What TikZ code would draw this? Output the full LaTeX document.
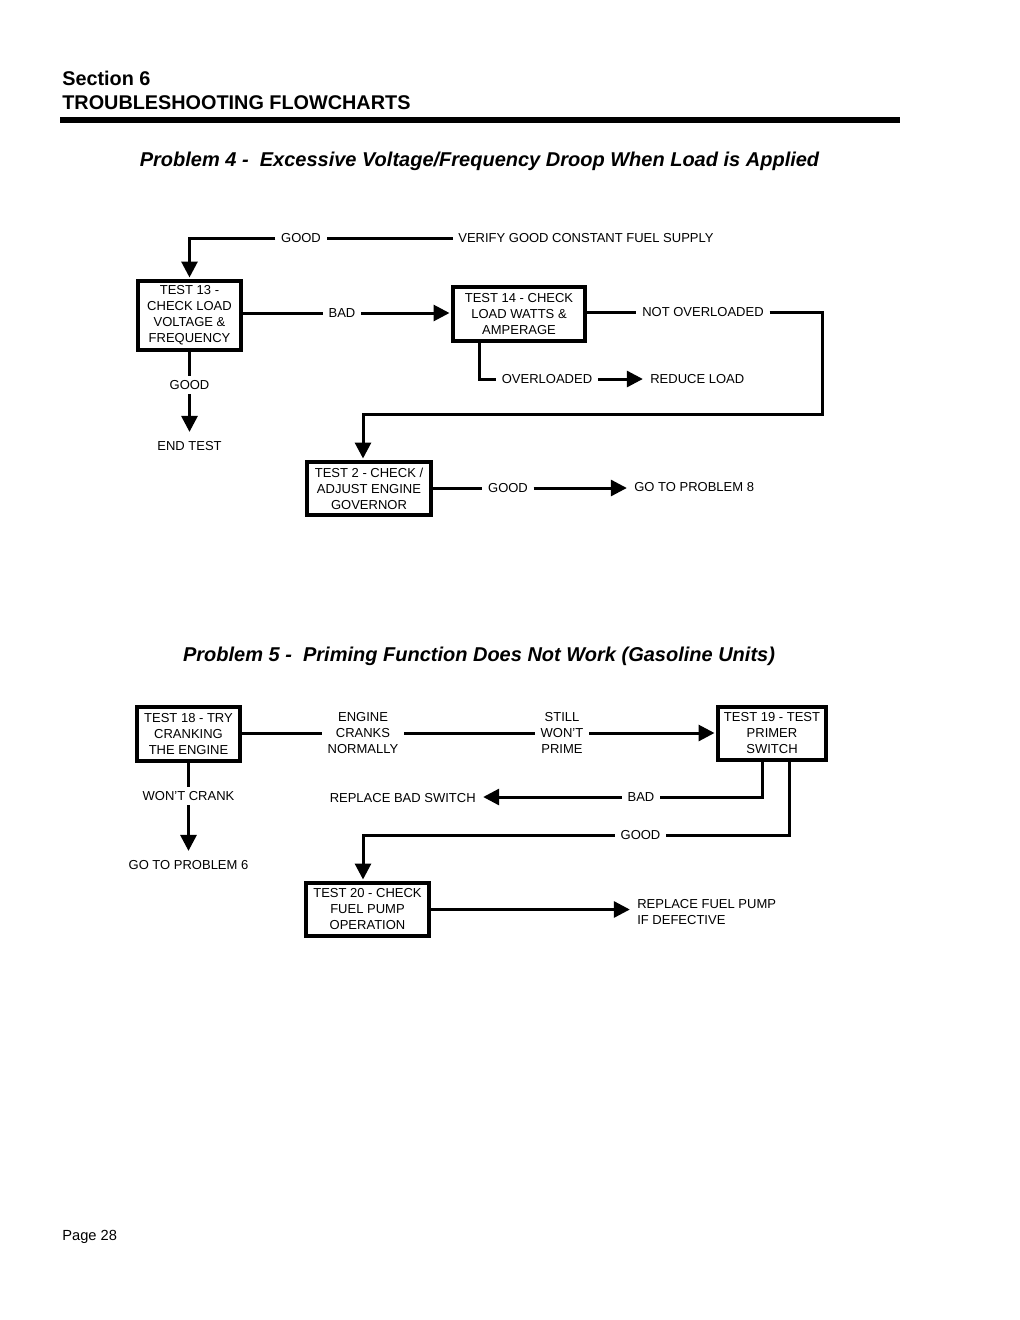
\documentclass[tikz,border=0pt]{standalone}
\usepackage{fontspec}
\setmainfont{Liberation Sans}
\usetikzlibrary{arrows.meta}
\begin{document}
\begin{tikzpicture}[x=0.6pt,y=-0.6pt,
  every node/.style={inner sep=0pt},
  box/.style={draw,line width=2.2pt,align=center,font=\fontsize{7.8}{9.6}\selectfont,inner sep=0pt},
  lbl/.style={align=center,font=\fontsize{7.8}{9.6}\selectfont,inner xsep=3.3pt,inner ysep=2.5pt},
  endlbl/.style={lbl,inner ysep=4.5pt},
  ln/.style={line width=1.8pt},
  arr/.style={ln,-{Triangle[length=9.6pt,width=9.6pt]},shorten >=1pt},
  hdr/.style={font=\fontsize{11.9}{14}\selectfont\bfseries,anchor=base west},
  ttl/.style={font=\fontsize{12}{14}\selectfont\bfseries\itshape,anchor=base}]
\useasboundingbox[fill=white] (0,0) rectangle (1020,1320);

% header
\node[hdr] (sec) at (62,85) {Section 6};
\node[hdr] (trb) at (62,109) {TROUBLESHOOTING FLOWCHARTS};
\coordinate (r1) at (60,119.5);
\coordinate (r2) at (900,119.5);
\draw[line width=3.6pt] (r1) -- (r2);
\node[ttl] (t4) at (479.5,166) {Problem 4 -\ \ Excessive Voltage/Frequency Droop When Load is Applied};
\node[ttl] (t5) at (479,661) {Problem 5 -\ \ Priming Function Does Not Work (Gasoline Units)};
\node[font=\fontsize{8.8}{10}\selectfont,anchor=base west] (pg) at (62,1240) {Page 28};

% ---------- Problem 4 ----------
\node[box,minimum width=61.8pt,minimum height=41.4pt] (t13) at (189.5,315.5) {TEST 13 -\\CHECK LOAD\\VOLTAGE \&\\FREQUENCY};
\node[box,minimum width=79.2pt,minimum height=32.4pt] (t14) at (519,314) {TEST 14 - CHECK\\LOAD WATTS \&\\AMPERAGE};
\node[box,minimum width=74.4pt,minimum height=31.8pt] (t2) at (369,488.5) {TEST 2 - CHECK /\\ADJUST ENGINE\\GOVERNOR};

\node[lbl] (good1) at (301,238) {GOOD};
\node[lbl,anchor=west] (verify) at (452.5,238) {VERIFY GOOD CONSTANT FUEL SUPPLY};
\node[lbl] (bad1) at (342,313) {BAD};
\node[lbl] (good2) at (189.5,385) {GOOD};
\node[endlbl] (endt) at (189.5,446) {END TEST};
\node[lbl] (notov) at (703,312) {NOT OVERLOADED};
\node[lbl] (over) at (547,379) {OVERLOADED};
\node[lbl,anchor=west] (reduce) at (644.5,379) {REDUCE LOAD};
\node[lbl] (good3) at (508,488) {GOOD};
\node[lbl,anchor=west] (gp8) at (628.5,487) {GO TO PROBLEM 8};

\draw[ln] (verify.west) -- (good1.east);
\draw[arr] (good1.west) -| (t13.north);
\draw[ln] (t13.east |- bad1) -- (bad1.west);
\draw[arr] (bad1.east) -- (bad1.east -| t14.west);
\draw[ln] (t13.south) -- (t13.south |- good2.north);
\draw[arr] (good2.south) -- (endt.north);
\coordinate (c1) at (822,414);
\coordinate (c2) at (363,414);
\draw[ln] (t14.east |- notov) -- (notov.west);
\draw[arr] (notov.east) -| (c1) -- (c2) -- (c2 |- t2.north);
\coordinate (c3) at (479,379);
\draw[ln] (c3 |- t14.south) -- (c3) -- (over.west);
\draw[arr] (over.east) -- (reduce.west);
\draw[ln] (t2.east |- good3) -- (good3.west);
\draw[arr] (good3.east) -- (good3.east -| gp8.west);

% ---------- Problem 5 ----------
\node[box,minimum width=61.8pt,minimum height=32.4pt] (t18) at (188.5,734) {TEST 18 - TRY\\CRANKING\\THE ENGINE};
\node[box,minimum width=64.8pt,minimum height=31.8pt] (t19) at (772,733.5) {TEST 19 - TEST\\PRIMER\\SWITCH};
\node[box,minimum width=73.8pt,minimum height=31.8pt] (t20) at (367.5,909.5) {TEST 20 - CHECK\\FUEL PUMP\\OPERATION};

\node[lbl] (engcr) at (363,733) {ENGINE\\CRANKS\\NORMALLY};
\node[lbl] (still) at (562,733) {STILL\\WON’T\\PRIME};
\node[lbl] (wontc) at (188.5,796) {WON’T CRANK};
\node[endlbl] (gp6) at (188.5,865) {GO TO PROBLEM 6};
\node[lbl] (bad2) at (641,797) {BAD};
\node[lbl,anchor=east] (repbad) at (481.5,798) {REPLACE BAD SWITCH};
\node[lbl] (good4) at (640.5,835) {GOOD};
\node[lbl,anchor=west,align=left] (repfuel) at (631.5,912) {REPLACE FUEL PUMP\\IF DEFECTIVE};

\draw[ln] (t18.east |- engcr) -- (engcr.west);
\draw[ln] (engcr.east) -- (still.west);
\draw[arr] (still.east) -- (still.east -| t19.west);
\draw[ln] (t18.south) -- (t18.south |- wontc.north);
\draw[arr] (wontc.south) -- (gp6.north);
\coordinate (c4) at (762,797);
\draw[ln] (c4 |- t19.south) -- (c4) -- (bad2.east);
\draw[arr] (bad2.west) -- (bad2.west -| repbad.east);
\coordinate (c5) at (789,835);
\coordinate (c6) at (363,835);
\draw[ln] (c5 |- t19.south) -- (c5) -- (good4.east);
\draw[arr] (good4.west) -- (c6) -- (c6 |- t20.north);
\draw[arr] (t20.east) -- (t20.east -| repfuel.west);
\end{tikzpicture}
\end{document}
